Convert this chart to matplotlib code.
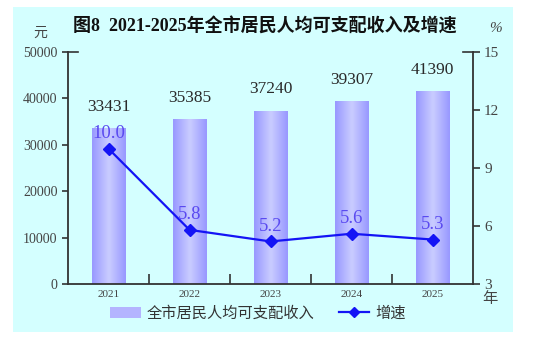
import numpy as np
import matplotlib
matplotlib.use('Agg')
import matplotlib.pyplot as plt
from matplotlib.patches import Rectangle, Patch
from matplotlib.lines import Line2D
from matplotlib.colors import LinearSegmentedColormap

years = ['2021', '2022', '2023', '2024', '2025']
income = [33431, 35385, 37240, 39307, 41390]
growth = [10.0, 5.8, 5.2, 5.6, 5.3]

title = '图8  2021-2025年全市居民人均可支配收入及增速'
bar_name = '全市居民人均可支配收入'
line_name = '增速'

SERIF = ['Liberation Serif', 'Noto Sans CJK SC']
CJK = ['Noto Sans CJK SC', 'DejaVu Sans']
BG = '#d4ffff'
AXC = '#333333'

fig = plt.figure(figsize=(5.41, 3.37), dpi=100)
fig.patch.set_facecolor('white')
fig.patches.append(Rectangle((13 / 541, 1 - 332 / 337), 500 / 541, 325 / 337,
                             transform=fig.transFigure, facecolor=BG,
                             edgecolor='none', zorder=-10))

ax = fig.add_axes([68 / 541, 1 - 284 / 337, 405 / 541, 232 / 337])
ax.set_facecolor('none')
x = np.arange(len(years))

# bars with a cylinder-like horizontal gradient
bars = ax.bar(x, income, width=0.41, color='none', edgecolor='none')
cmap = LinearSegmentedColormap.from_list('bar', ['#9898ff', '#cacdff', '#9898ff'])
grad = np.linspace(0, 1, 64).reshape(1, -1)
for b in bars:
    ax.imshow(grad, cmap=cmap, aspect='auto', interpolation='bicubic',
              extent=(b.get_x(), b.get_x() + b.get_width(), 0, b.get_height()),
              zorder=1)
for xi, v in zip(x, income):
    ax.annotate(str(v), (xi, v), xytext=(0, 10), textcoords='offset points',
                ha='center', va='bottom', fontsize=12.5, family=SERIF, color='#2a2a2a')

ax.set_xlim(-0.5, len(years) - 0.5)
ax.set_ylim(0, 50000)
ax.set_yticks(range(0, 50001, 10000))
ax.set_yticklabels([str(t) for t in range(0, 50001, 10000)], family=SERIF,
                   fontsize=10, color='#444444')
ax.tick_params(axis='y', direction='out', length=4, width=1.2, color=AXC, pad=3.5)
ax.axhline(50000, 0, 0.025, color=AXC, lw=1.2, clip_on=False)

ax.set_xticks(x[:-1] + 0.5)
ax.set_xticklabels([])
ax.tick_params(axis='x', which='major', direction='in', length=7, width=1.2, color=AXC)
ax.set_xticks(x, minor=True)
ax.set_xticklabels(years, minor=True, family=SERIF, fontsize=8, color='#444444')
ax.tick_params(axis='x', which='minor', length=0, pad=4)

for s in ['top', 'right']:
    ax.spines[s].set_visible(False)
for s in ['left', 'bottom']:
    ax.spines[s].set_color(AXC)
    ax.spines[s].set_linewidth(1.3)

ax2 = ax.twinx()
ax2.plot(x, growth, color='#1414f5', lw=1.6, marker='D', markersize=6.5, zorder=3)
for xi, g in zip(x, growth):
    ax2.annotate(f'{g:.1f}', (xi, g), xytext=(0, 5), textcoords='offset points',
                 ha='center', va='bottom', fontsize=13.5, family=SERIF, color='#5a4af0')
ax2.set_ylim(3, 15)
ax2.set_yticks(range(3, 16, 3))
ax2.set_yticklabels([str(t) for t in range(3, 16, 3)], family=SERIF,
                    fontsize=11, color='#444444')
ax2.tick_params(axis='y', direction='out', length=5, width=1.2, color=AXC, pad=3)
ax2.axhline(15, 0.975, 1, color=AXC, lw=1.2, clip_on=False)
for s in ['top', 'left', 'bottom']:
    ax2.spines[s].set_visible(False)
ax2.spines['right'].set_color(AXC)
ax2.spines['right'].set_linewidth(1.3)

fig.text(265 / 541, 1 - 27 / 337, title, ha='center', va='center',
         fontsize=13, fontweight='bold', family=SERIF, color='#111111')
fig.text(40 / 541, 1 - 33 / 337, '元', ha='center', va='center',
         fontsize=10, family=CJK, color='#444444')
fig.text(496 / 541, 1 - 29 / 337, '%', ha='center', va='center',
         fontsize=11, family=SERIF, style='italic', color='#444444')
fig.text(490 / 541, 1 - 299 / 337, '年', ha='center', va='center',
         fontsize=11, family=CJK, color='#444444')

handles = [Patch(facecolor='#b4b4ff', edgecolor='none'),
           Line2D([], [], color='#1414f5', lw=1.6, marker='D', markersize=5)]
fig.legend(handles, [bar_name, line_name], loc='center',
           bbox_to_anchor=(258 / 541, 1 - 313 / 337), ncol=2, frameon=False,
           prop={'family': CJK, 'size': 11}, handlelength=2.0,
           handletextpad=0.4, columnspacing=1.6, labelcolor='#333333')

fig.savefig('out.png', dpi=100, facecolor='white')
